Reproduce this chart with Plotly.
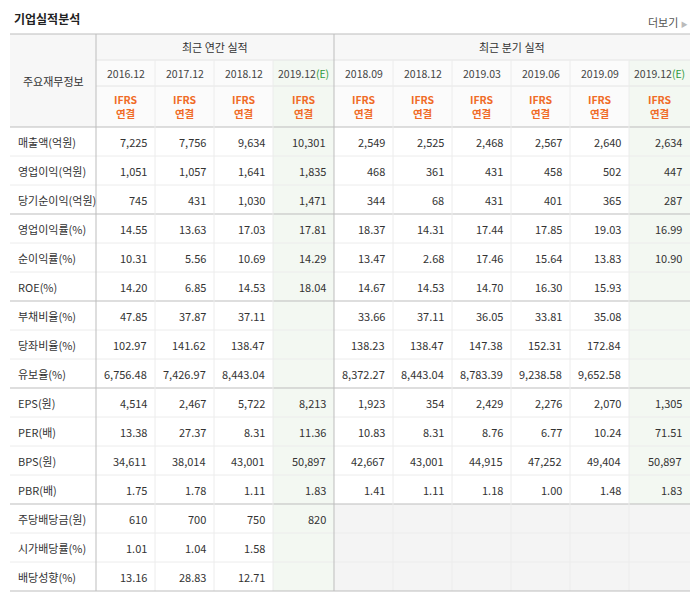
import plotly.graph_objects as go

items = ["매출액(억원)", "영업이익(억원)", "당기순이익(억원)", "영업이익률(%)", "순이익률(%)", "ROE(%)",
         "부채비율(%)", "당좌비율(%)", "유보율(%)", "EPS(원)", "PER(배)", "BPS(원)", "PBR(배)",
         "주당배당금(원)", "시가배당률(%)", "배당성향(%)"]
periods = ["2016.12", "2017.12", "2018.12", "2019.12", "2018.09", "2018.12", "2019.03", "2019.06", "2019.09", "2019.12"]
estimate = [False, False, False, True, False, False, False, False, False, True]

values = [
    ["7,225", "7,756", "9,634", "10,301", "2,549", "2,525", "2,468", "2,567", "2,640", "2,634"],
    ["1,051", "1,057", "1,641", "1,835", "468", "361", "431", "458", "502", "447"],
    ["745", "431", "1,030", "1,471", "344", "68", "431", "401", "365", "287"],
    ["14.55", "13.63", "17.03", "17.81", "18.37", "14.31", "17.44", "17.85", "19.03", "16.99"],
    ["10.31", "5.56", "10.69", "14.29", "13.47", "2.68", "17.46", "15.64", "13.83", "10.90"],
    ["14.20", "6.85", "14.53", "18.04", "14.67", "14.53", "14.70", "16.30", "15.93", ""],
    ["47.85", "37.87", "37.11", "", "33.66", "37.11", "36.05", "33.81", "35.08", ""],
    ["102.97", "141.62", "138.47", "", "138.23", "138.47", "147.38", "152.31", "172.84", ""],
    ["6,756.48", "7,426.97", "8,443.04", "", "8,372.27", "8,443.04", "8,783.39", "9,238.58", "9,652.58", ""],
    ["4,514", "2,467", "5,722", "8,213", "1,923", "354", "2,429", "2,276", "2,070", "1,305"],
    ["13.38", "27.37", "8.31", "11.36", "10.83", "8.31", "8.76", "6.77", "10.24", "71.51"],
    ["34,611", "38,014", "43,001", "50,897", "42,667", "43,001", "44,915", "47,252", "49,404", "50,897"],
    ["1.75", "1.78", "1.11", "1.83", "1.41", "1.11", "1.18", "1.00", "1.48", "1.83"],
    ["610", "700", "750", "820", None, None, None, None, None, None],
    ["1.01", "1.04", "1.58", "", None, None, None, None, None, None],
    ["13.16", "28.83", "12.71", "", None, None, None, None, None, None],
]
group_ends = [2, 5, 8, 12]

# layout geometry (pixel-like axis units)
col_x = [10, 96, 155, 214, 273, 334, 393, 452, 511, 570, 629, 690]
top, h_grp, h_per, h_ifrs, row_h = 34, 26, 26, 41, 29
body_top = top + h_grp + h_per + h_ifrs
bottom = body_top + row_h * len(items)

FONT = "Noto Sans CJK KR"
TXT = "#333333"
shapes, ann = [], []

def rect(x0, y0, x1, y1, fill):
    shapes.append(dict(type="rect", x0=x0, x1=x1, y0=y0, y1=y1, fillcolor=fill, line=dict(width=0), layer="below"))

def line(x0, y0, x1, y1, color="#e4e4e4", w=1):
    shapes.append(dict(type="line", x0=x0, x1=x1, y0=y0, y1=y1, line=dict(color=color, width=w)))

def text(x, y, s, size=11, color=TXT, anchor="center"):
    ann.append(dict(x=x, y=y, text=s, showarrow=False, xanchor=anchor, yanchor="middle",
                    font=dict(family=FONT, size=size, color=color)))

# header backgrounds
rect(col_x[0], top, col_x[-1], body_top, "#f7f7f7")
rect(col_x[1], top + h_grp, col_x[-1], body_top, "#fbfbfb")
for j, e in enumerate(estimate):
    if e:
        rect(col_x[j + 1], top + h_grp, col_x[j + 2], bottom, "#f3f8f2")
# empty quarterly dividend cells
rect(col_x[5], body_top + row_h * 13, col_x[-1], bottom, "#f4f4f4")

# header text
text(12, 18, "<b>기업실적분석</b>", size=12, color="#222", anchor="left")
text(690, 22, "더보기 <span style='color:#bbb;font-size:7px'>▶</span>", size=11, color="#555", anchor="right")
text((col_x[0] + col_x[1]) / 2, top + 47, "주요재무정보", size=11)
text((col_x[1] + col_x[5]) / 2, top + h_grp / 2, "최근 연간 실적", size=11)
text((col_x[5] + col_x[-1]) / 2, top + h_grp / 2, "최근 분기 실적", size=11)
for j, p in enumerate(periods):
    cx = (col_x[j + 1] + col_x[j + 2]) / 2
    label = p + ("<span style='color:#2c9a3c'>(E)</span>" if estimate[j] else "")
    text(cx, top + h_grp + h_per / 2, label, size=10.5, color="#444")
    text(cx, top + h_grp + h_per + h_ifrs / 2, "<b>IFRS<br>연결</b>", size=10.5, color="#f06b27")

# body text
for i, name in enumerate(items):
    cy = body_top + row_h * (i + 0.5)
    text(16, cy, name, size=11, anchor="left")
    for j, v in enumerate(values[i]):
        if v:
            text(col_x[j + 2] - 6, cy, v, size=11, anchor="right")

# grid lines
for i in range(1, len(items)):
    y = body_top + row_h * i
    dark = (i - 1) in group_ends
    line(col_x[0], y, col_x[-1], y, "#bdbdbd" if dark else "#ececec")
line(col_x[1], top + h_grp, col_x[-1], top + h_grp)
line(col_x[1], top + h_grp + h_per, col_x[-1], top + h_grp + h_per)
line(col_x[0], body_top, col_x[-1], body_top, "#bdbdbd")
for j, x in enumerate(col_x[1:-1], start=1):
    major = j in (1, 5)
    y0 = top if major else top + h_grp
    line(x, y0, x, bottom, "#bdbdbd" if major else "#ececec")
line(col_x[0], top, col_x[-1], top, "#bdbdbd")
line(col_x[0], bottom, col_x[-1], bottom, "#bdbdbd")

# the page body has an 8px margin, so offset the axis ranges to keep reference pixel positions
fig = go.Figure(go.Scatter(x=[8, 707], y=[8, 606], mode="markers", marker=dict(opacity=0), hoverinfo="skip"))
fig.update_layout(
    width=699, height=598, margin=dict(l=0, r=0, t=0, b=0),
    plot_bgcolor="white", paper_bgcolor="white", showlegend=False,
    xaxis=dict(range=[8, 707], visible=False, fixedrange=True),
    yaxis=dict(range=[606, 8], visible=False, fixedrange=True),
    shapes=shapes, annotations=ann,
)
fig.write_html("out.html")
